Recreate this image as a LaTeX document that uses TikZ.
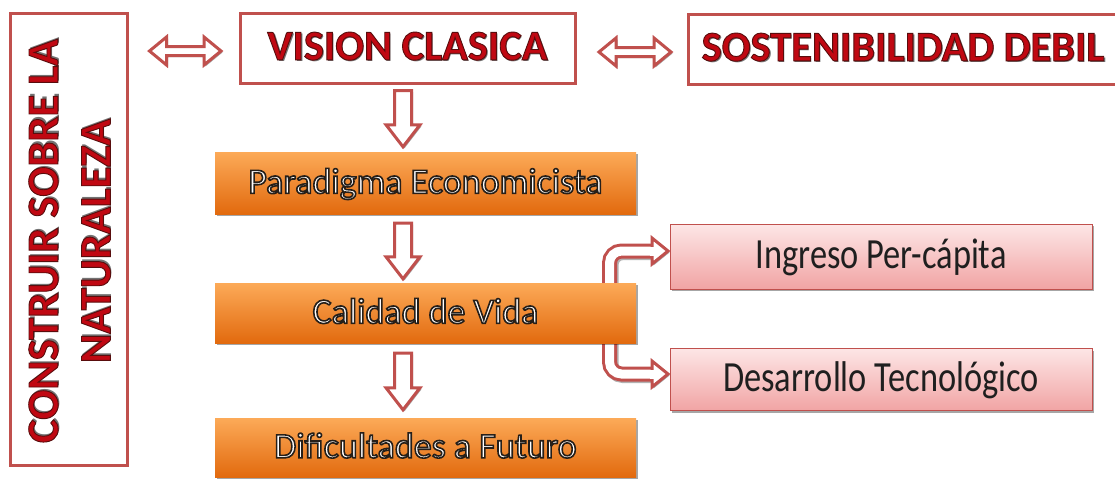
\documentclass[tikz,border=0pt]{standalone}
\usepackage{fontspec}
\setmainfont{Carlito}
\usetikzlibrary{calc,shadows}
\pgfdeclarelayer{bg}
\pgfsetlayers{bg,main}
\definecolor{bord}{RGB}{192,80,77}
\definecolor{headred}{RGB}{192,8,18}
\definecolor{orTop}{RGB}{252,170,88}
\definecolor{orBot}{RGB}{226,106,14}
\definecolor{pkTop}{RGB}{253,230,230}
\definecolor{pkBot}{RGB}{241,164,164}
% red text with dark edge (fill + stroke render mode) and a grey shadow
\newcommand\shtext[1]{\makebox[0pt][l]{\hspace*{1.6pt}\raisebox{-1.6pt}{\color{black!55}#1}}{\color{headred}\special{pdf:literal direct 2 Tr 0.9 w 0.35 0.05 0.05 RG}#1\special{pdf:literal direct 0 Tr}}}
% white text with dark outline
\newcommand\outtext[1]{{\color{white}\special{pdf:literal direct 2 Tr 1.6 w 0.15 0.12 0.1 RG}#1\special{pdf:literal direct 0 Tr}}}
\newcommand\pktext[1]{\scalebox{1}[1.25]{\color{black!88}#1}}
\newcommand\downblk[2]{%
 \path[blk] let \p1=#1, \p2=#2 in (\x1-8.5pt,\y1) -- (\x1+8.5pt,\y1) -- (\x1+8.5pt,\y2+22pt) -- (\x1+17pt,\y2+22pt) -- (\x1,\y2) -- (\x1-17pt,\y2+22pt) -- (\x1-8.5pt,\y2+22pt) -- cycle;}
\newcommand\dblblk[2]{%
 \path[blk] let \p1=#1, \p2=#2 in (\x1,\y1) -- (\x1+17pt,\y1+14pt) -- (\x1+17pt,\y1+4.5pt) -- (\x2-17pt,\y1+4.5pt) -- (\x2-17pt,\y1+14pt) -- (\x2,\y1) -- (\x2-17pt,\y1-14pt) -- (\x2-17pt,\y1-4.5pt) -- (\x1+17pt,\y1-4.5pt) -- (\x1+17pt,\y1-14pt) -- cycle;}
\newcommand\headblk[1]{%
 \path[blk] let \p1=#1 in (\x1,\y1) -- (\x1-16pt,\y1+13pt) -- (\x1-16pt,\y1-13pt) -- cycle;}
\tikzset{
 hbox/.style={draw=bord, line width=3pt, fill=white, inner sep=0pt,
   drop shadow={shadow xshift=1.5pt, shadow yshift=-1.5pt, opacity=0.45, fill=black}},
 orbox/.style={top color=orTop, bottom color=orBot, inner sep=0pt, minimum width=421pt,
   drop shadow={shadow xshift=2pt, shadow yshift=-2pt, opacity=0.35, fill=black},
   font=\fontsize{36}{40}\selectfont, text height=24pt, text depth=3.2pt},
 pkbox/.style={top color=pkTop, bottom color=pkBot, draw=bord, line width=1pt, inner sep=0pt,
   minimum width=422pt,
   drop shadow={shadow xshift=2pt, shadow yshift=-2pt, opacity=0.35, fill=black},
   font=\fontsize{34.4}{40}\selectfont, text height=26.4pt, text depth=3.2pt},
 headfont/.style={font=\bfseries\fontsize{42.5}{48}\selectfont, text height=27pt, text depth=3.2pt},
 blk/.style={fill=white, draw=bord, line width=3pt,
   drop shadow={shadow xshift=1.5pt, shadow yshift=-1.5pt, opacity=0.35, fill=black}},
 bentout/.style={draw=bord, line width=15pt, rounded corners=12pt},
 bentin/.style={draw=white, line width=9pt, rounded corners=12pt},
 bentshadow/.style={draw=black, opacity=0.3, line width=15pt, rounded corners=12pt}
}
\begin{document}
\begin{tikzpicture}[x=1pt,y=-1pt]
\useasboundingbox (0,0) rectangle (1115,485);
\begin{pgfonlayer}{bg}
\fill[white] (0,0) rectangle (1115,485);
\end{pgfonlayer}

% left box
\node[hbox, minimum width=117pt, minimum height=452pt] (L) at (68.5,239) {};
\node[rotate=90, align=center, inner sep=0pt,
      font=\bfseries\fontsize{44.5}{52.5}\selectfont] (Lt) at (70.5,241)
      {\shtext{CONSTRUIR SOBRE LA}\\\shtext{NATURALEZA}};

% top boxes
\node[hbox, headfont, minimum width=335pt, minimum height=70pt] (VC) at (407.5,48) {\shtext{VISION CLASICA}};
\node[hbox, headfont, minimum width=430pt, minimum height=70pt] (SD) at (903,49) {\shtext{SOSTENIBILIDAD DEBIL}};

% orange boxes
\node[orbox, minimum height=62pt] (P) at (425.5,183) {\outtext{Paradigma Economicista}};
\node[orbox, minimum height=60pt] (C) at (425.5,313) {\outtext{Calidad de Vida}};
\node[orbox, minimum height=59pt] (D) at (425.5,447.5) {\outtext{Dificultades a Futuro}};

% pink boxes
\node[pkbox, minimum height=65pt] (I) at (881,256.5) {\pktext{Ingreso Per-cápita}};
\node[pkbox, minimum height=62pt] (T) at (881,379.5) {\pktext{Desarrollo Tecnológico}};

% helper coordinates
\coordinate (ax) at (403,0);
\coordinate (rowA) at (0,51);
\coordinate (rowB) at (0,52);
\coordinate (bx) at (609.5,0);

% double arrows
\dblblk{($(L.east|-rowA)+(21,0)$)}{($(VC.west|-rowA)+(-17.5,0)$)}
\dblblk{($(VC.east|-rowB)+(22.5,0)$)}{($(SD.west|-rowB)+(-15.5,0)$)}

% down arrows
\downblk{($(ax|-VC.south)+(0,6)$)}{($(ax|-P.north)+(0,-5)$)}
\downblk{($(ax|-P.south)+(0,9)$)}{($(ax|-C.north)+(0,-4)$)}
\downblk{($(ax|-C.south)+(0,10)$)}{($(ax|-D.north)+(0,-8)$)}

% bent arrows (behind the boxes)
\begin{pgfonlayer}{bg}
\path[bentshadow, transform canvas={shift={(1.5pt,-1.5pt)}}] ($(bx|-C.north)+(0,20)$) -- ($(bx|-I.west)+(0,-5.5)$) -- ($(I.west)+(-16.5,-5.5)$);
\path[bentshadow, transform canvas={shift={(1.5pt,-1.5pt)}}] ($(bx|-C.south)+(0,-20)$) -- ($(bx|-T.west)+(0,-5.5)$) -- ($(T.west)+(-16.5,-5.5)$);
\path[bentout] ($(bx|-C.north)+(0,20)$) -- ($(bx|-I.west)+(0,-5.5)$) -- ($(I.west)+(-16.5,-5.5)$);
\path[bentin] ($(bx|-C.north)+(0,20)$) -- ($(bx|-I.west)+(0,-5.5)$) -- ($(I.west)+(-16.5,-5.5)$);
\path[bentout] ($(bx|-C.south)+(0,-20)$) -- ($(bx|-T.west)+(0,-5.5)$) -- ($(T.west)+(-16.5,-5.5)$);
\path[bentin] ($(bx|-C.south)+(0,-20)$) -- ($(bx|-T.west)+(0,-5.5)$) -- ($(T.west)+(-16.5,-5.5)$);
\headblk{($(I.west)+(-1.5,-5.5)$)}
\headblk{($(T.west)+(-1.5,-5.5)$)}
\draw[white, line width=9pt] ($(I.west)+(-20,-5.5)$) -- ($(I.west)+(-15,-5.5)$);
\draw[white, line width=9pt] ($(T.west)+(-20,-5.5)$) -- ($(T.west)+(-15,-5.5)$);
\end{pgfonlayer}
\end{tikzpicture}
\end{document}
